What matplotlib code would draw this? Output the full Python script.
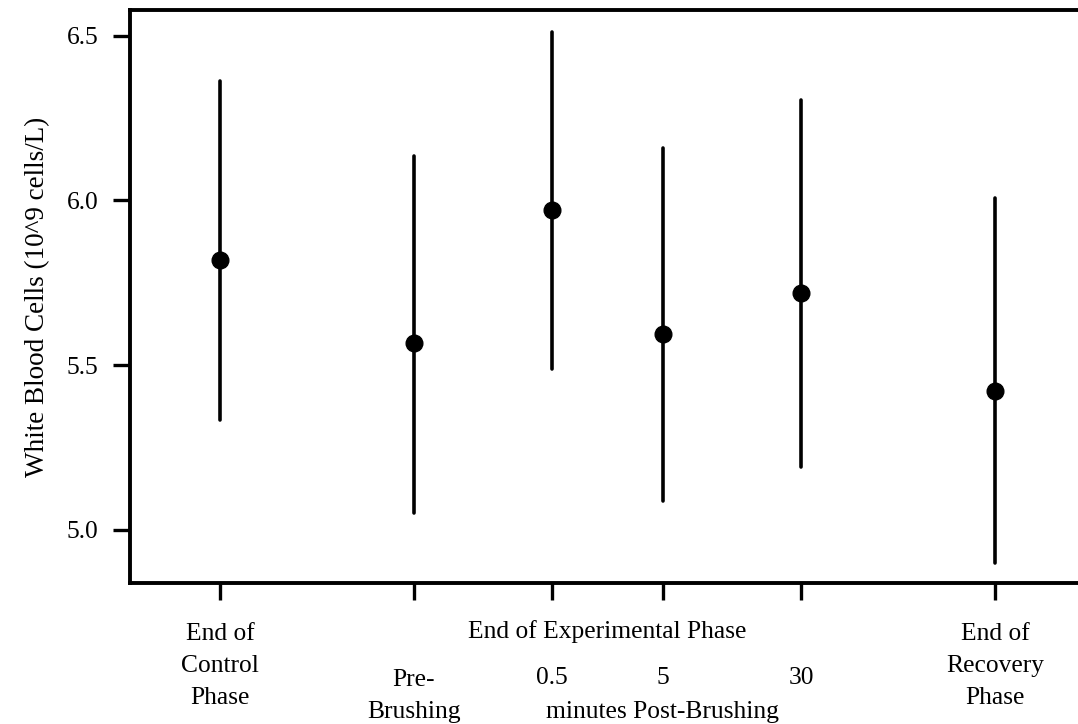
import matplotlib
matplotlib.use("Agg")
import matplotlib.pyplot as plt
from matplotlib.transforms import blended_transform_factory

# ---- data ----
positions = [0, 7, 12, 16, 21, 28]
means = [5.82, 5.566, 5.972, 5.596, 5.718, 5.421]
upper = [6.363, 6.135, 6.512, 6.160, 6.306, 6.006]
lower = [5.334, 5.052, 5.488, 5.087, 5.191, 4.899]
tick_labels = ["End of\nControl\nPhase", "Pre-\nBrushing", "0.5", "5", "30",
               "End of\nRecovery\nPhase"]
group_top_label = "End of Experimental Phase"
group_bottom_label = "minutes Post-Brushing"
y_ticks = [5.0, 5.5, 6.0, 6.5]
y_label = "White Blood Cells (10^9 cells/L)"

plt.rcParams['font.family'] = ['Liberation Serif', 'DejaVu Serif']
FS = 18.4

W, H = 1078, 724
fig = plt.figure(figsize=(W / 100, H / 100), dpi=100)
ax = fig.add_axes([130 / W, (H - 583.3) / H, (W - 130) / W, (583.3 - 10) / H])

ax.vlines(positions, lower, upper, color='black', lw=2.6, capstyle='round')
ax.plot(positions, means, 'o', color='black', ms=12, zorder=3)

ax.set_xlim(-3.25, 31.0)
ax.set_ylim(4.838, 6.578)
ax.set_yticks(y_ticks)
ax.set_yticklabels([f"{v:.1f}" for v in y_ticks], fontsize=FS)
ax.set_xticks(positions)
ax.set_xticklabels([])
ax.tick_params(direction='out', length=12.5, width=2.4, pad=10, color='black')

for s in ['left', 'top', 'bottom']:
    ax.spines[s].set_linewidth(2.8)
ax.spines['right'].set_visible(False)

ax.set_ylabel(y_label, fontsize=19.5)
ax.yaxis.set_label_coords(-0.084, 0.5)

trans = blended_transform_factory(ax.transData, fig.transFigure)
ls = 1.6
last_baseline = {3: 704, 2: 718, 1: 684}
for x, lab in zip(positions, tick_labels):
    n_lines = lab.count("\n") + 1
    base_px = last_baseline[n_lines]
    ax.text(x, 1 - base_px / H, lab, transform=trans, ha='center', va='baseline',
            fontsize=FS, linespacing=ls, multialignment='center')

ax.text((positions[2] + positions[3]) / 2, 1 - 638 / H, group_top_label,
        transform=trans, ha='center', va='baseline', fontsize=FS)
ax.text(positions[3], 1 - 718 / H, group_bottom_label,
        transform=trans, ha='center', va='baseline', fontsize=FS)

fig.savefig("out.png", dpi=100)
